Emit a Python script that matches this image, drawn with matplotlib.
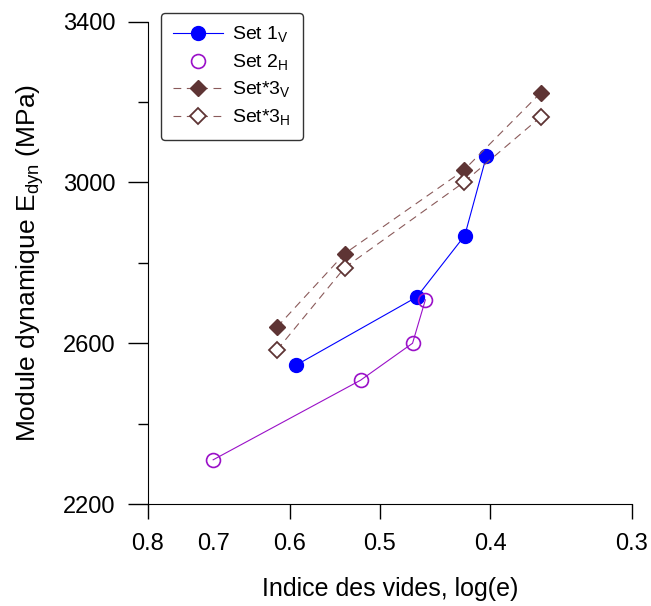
import numpy as np
import matplotlib
matplotlib.use("Agg")
import matplotlib.pyplot as plt
from matplotlib.ticker import FixedLocator, NullFormatter

plt.rcParams['font.family'] = ['Liberation Sans', 'DejaVu Sans']

# void ratio e and dynamic modulus (MPa)
e_set1 = [0.593, 0.464, 0.421, 0.403]
E_set1 = [2545, 2715, 2868, 3065]

e_set2 = [0.701, 0.520, 0.468, 0.456]
E_set2 = [2310, 2508, 2600, 2708]

e_set3v = [0.616, 0.537, 0.422, 0.361]
E_set3v = [2640, 2823, 3030, 3223]

e_set3h = [0.616, 0.537, 0.422, 0.361]
E_set3h = [2583, 2788, 3000, 3163]

xticks = [0.8, 0.7, 0.6, 0.5, 0.4, 0.3]
yticks = [2200, 2600, 3000, 3400]
yminor = [2400, 2800, 3200]

brown = '#5e3434'
dash_col = '#8a5a5a'

fig = plt.figure(figsize=(6.51, 6.06), dpi=100)
ax = fig.add_axes([0.2273, 0.1683, 0.7435, 0.7959])

ax.plot(e_set1, E_set1, '-', color='#0000ff', lw=0.8, marker='o', ms=10,
        mfc='#0000ff', mec='#0000ff', label='Set 1$_\\mathregular{V}$')
ax.plot(e_set2, E_set2, '-', color='#9a10c8', lw=0.8)
ax.plot(e_set2, E_set2, 'o', ms=10, mfc='none', mec='#9a10c8', mew=1.2,
        label='Set 2$_\\mathregular{H}$')
ax.plot(e_set3v, E_set3v, color=dash_col, lw=0.8, dashes=(7, 5),
        marker='D', ms=8.5, mfc=brown, mec=brown, label='Set*3$_\\mathregular{V}$')
ax.plot(e_set3h, E_set3h, color=dash_col, lw=0.8, dashes=(7, 5),
        marker='D', ms=8.5, mfc='white', mec=brown, mew=1.3, label='Set*3$_\\mathregular{H}$')

ax.set_xscale('log')
ax.set_xlim(0.8, 0.3)
ax.set_ylim(2200, 3400)
ax.xaxis.set_major_locator(FixedLocator(xticks))
ax.xaxis.set_minor_locator(FixedLocator([]))
ax.xaxis.set_minor_formatter(NullFormatter())
ax.set_xticklabels([str(t) for t in xticks])
ax.set_yticks(yticks)
ax.yaxis.set_minor_locator(FixedLocator(yminor))

ax.spines['top'].set_visible(False)
ax.spines['right'].set_visible(False)
ax.tick_params(axis='y', which='major', direction='out', length=14.5, width=1,
               labelsize=17, pad=9)
ax.tick_params(axis='x', which='major', direction='out', length=11, width=1,
               labelsize=17, pad=10)
ax.tick_params(axis='y', which='minor', direction='out', length=7, width=1)
ax.xaxis.get_major_ticks()[1].tick1line.set_visible(False)

ax.set_xlabel('Indice des vides, log(e)', fontsize=18, labelpad=16)
ax.set_ylabel('Module dynamique E$_\\mathregular{dyn}$ (MPa)', fontsize=19, labelpad=12)

leg = ax.legend(loc='upper left', bbox_to_anchor=(0.027, 1.018), fontsize=14,
                frameon=True, fancybox=True, edgecolor='black', handlelength=2.6,
                borderpad=0.6, labelspacing=0.38, handletextpad=0.45,
                borderaxespad=0)
leg.get_frame().set_linewidth(1.0)

fig.savefig('out.png', dpi=100)
